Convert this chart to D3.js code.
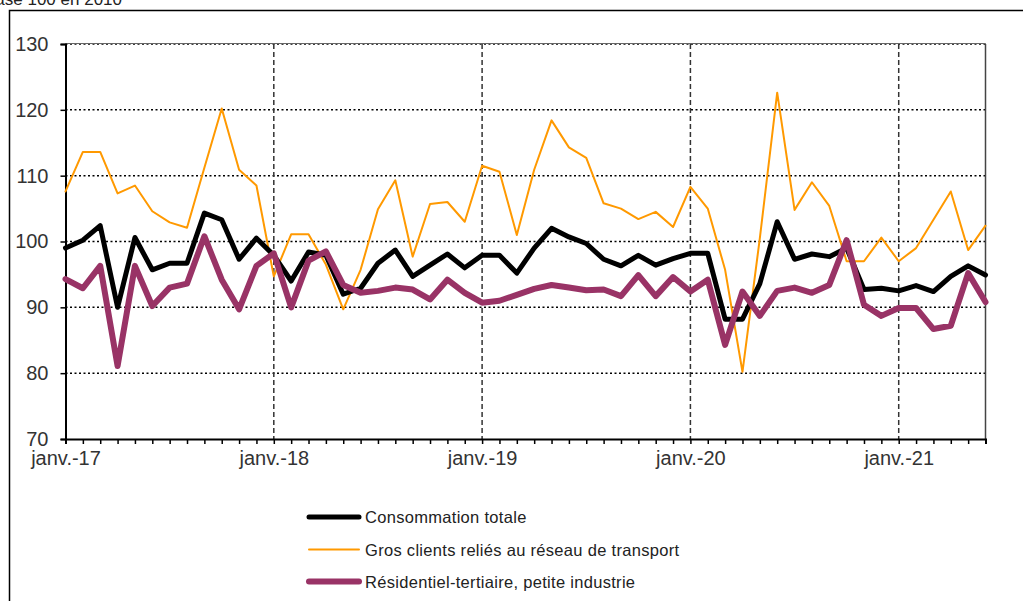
<!DOCTYPE html>
<html><head><meta charset="utf-8">
<script src="https://cdn.jsdelivr.net/npm/d3@7"></script>
<style>body{margin:0;background:#fff}svg{display:block}text{font-family:Arial,"Liberation Sans",sans-serif}</style>
</head><body><svg id="c" width="1023" height="601"></svg>
<script>
const monthNames = ["janv.","févr.","mars","avr.","mai","juin","juil.","août","sept.","oct.","nov.","déc."];
const years = ["17","18","19","20","21"];
const months = [];
years.forEach(y => monthNames.forEach(m => months.push(m + "-" + y)));
const categories = months.slice(0, 54);
const tickLabels = ["janv.-17","janv.-18","janv.-19","janv.-20","janv.-21"];
const yTicks = [70,80,90,100,110,120,130];

const consommationTotale = [99.0,100.2,102.4,90.0,100.6,95.7,96.7,96.7,104.3,103.3,97.3,100.5,
  97.9,94.0,98.4,97.9,92.0,92.9,96.7,98.7,94.7,96.4,98.1,96.0,
  97.9,97.9,95.2,99.0,102.0,100.7,99.7,97.3,96.3,97.9,96.4,97.4,
  98.2,98.2,88.2,88.2,93.6,103.0,97.3,98.1,97.7,99.0,92.7,92.9,
  92.5,93.3,92.4,94.7,96.3,94.9];
const grosClients = [107.6,113.6,113.6,107.3,108.5,104.6,102.9,102.1,111.2,120.2,110.9,108.5,
  94.7,101.1,101.1,96.5,89.7,95.7,104.9,109.3,97.7,105.7,106.0,103.0,
  111.5,110.6,101.0,110.9,118.4,114.3,112.7,105.8,105.0,103.4,104.5,102.2,
  108.3,105.0,95.7,80.2,100.5,122.6,104.8,109.0,105.4,97.0,97.0,100.6,
  97.0,99.0,103.3,107.6,98.7,102.4];
const residentiel = [94.3,92.9,96.3,81.1,96.3,90.2,93.0,93.6,100.8,94.2,89.7,96.3,
  98.2,90.0,97.1,98.5,93.4,92.2,92.5,93.0,92.7,91.2,94.2,92.2,
  90.7,91.0,91.9,92.8,93.4,93.0,92.6,92.7,91.7,94.9,91.7,94.6,
  92.4,94.2,84.3,92.4,88.7,92.5,93.0,92.2,93.4,100.2,90.4,88.7,
  89.9,89.9,86.7,87.2,95.2,90.8];

const seriesNames = ["Consommation totale","Gros clients reliés au réseau de transport","Résidentiel-tertiaire, petite industrie"];
const seriesColors = ["#000000","#FF9900","#993366"];
const seriesWidths = [5,2,6];
const seriesData = [consommationTotale, grosClients, residentiel];

const svg = d3.select("#c");
const L = 65.5, R = 985.5, T = 44, B = 439;
const x = d3.scalePoint().domain(categories).range([L, R]);
const y = d3.scaleLinear().domain([70,130]).range([B, T]);

// outer frame
svg.append("rect").attr("x",9.5).attr("y",10.5).attr("width",1030).attr("height",600)
  .attr("fill","none").attr("stroke","#000").attr("stroke-width",1.5);

// top-left note (partly cut off at the top edge, as in the source)
svg.append("text").attr("x",122).attr("y",5).attr("text-anchor","end")
  .attr("font-size",17).attr("fill","#222").text("Base 100 en 2010");

// horizontal gridlines
svg.append("g").selectAll("line").data(yTicks.filter(v=>v>70)).join("line")
  .attr("x1",L).attr("x2",R).attr("y1",d=>y(d)).attr("y2",d=>y(d))
  .attr("stroke","#000").attr("stroke-width",1.5).attr("stroke-dasharray","2,2.5");

// vertical dashed gridlines at January
svg.append("g").selectAll("line").data(tickLabels.slice(1)).join("line")
  .attr("x1",d=>x(d)).attr("x2",d=>x(d)).attr("y1",T).attr("y2",B)
  .attr("stroke","#333").attr("stroke-width",1.5).attr("stroke-dasharray","5,3");

// plot border top/right
svg.append("line").attr("x1",L).attr("x2",R).attr("y1",T-0.5).attr("y2",T-0.5).attr("stroke","#666").attr("stroke-width",1);
svg.append("line").attr("x1",R).attr("x2",R).attr("y1",T).attr("y2",B).attr("stroke","#444").attr("stroke-width",1.5);

// y axis
const yAxis = d3.axisLeft(y).tickValues(yTicks).tickSize(5).tickPadding(12);
const gy = svg.append("g").attr("transform",`translate(${L},0)`).call(yAxis);
gy.select(".domain").attr("stroke","#000").attr("stroke-width",2);
gy.selectAll(".tick line").attr("stroke","#000").attr("stroke-width",1.5);
gy.selectAll("text").attr("font-size",20).attr("fill","#333").attr("font-family","Arial, 'Liberation Sans', sans-serif");

// x axis
const xAxis = d3.axisBottom(x).tickValues(categories).tickSize(5).tickPadding(7)
  .tickFormat(d => tickLabels.includes(d) ? d : "");
const gx = svg.append("g").attr("transform",`translate(0,${B})`).call(xAxis);
gx.select(".domain").attr("stroke","#000").attr("stroke-width",2);
gx.selectAll(".tick line").attr("stroke","#000").attr("stroke-width",1.5);
gx.selectAll("text").attr("font-size",20).attr("fill","#333").attr("font-family","Arial, 'Liberation Sans', sans-serif");

// series
const line = d3.line().x((d,i)=>x(categories[i])).y(d=>y(d));
[1,0,2].forEach(k => {
  svg.append("path").datum(seriesData[k]).attr("d",line)
    .attr("fill","none").attr("stroke",seriesColors[k]).attr("stroke-width",seriesWidths[k])
    .attr("stroke-linejoin","round").attr("stroke-linecap","round");
});

// legend
const legY = [517, 549.5, 581.5];
seriesNames.forEach((n,k) => {
  svg.append("line").attr("x1",309).attr("x2",359).attr("y1",legY[k]).attr("y2",legY[k])
    .attr("stroke",seriesColors[k]).attr("stroke-width",seriesWidths[k]).attr("stroke-linecap","round");
  svg.append("text").attr("x",365).attr("y",legY[k]+6).attr("font-size",16.5).attr("fill","#222")
    .attr("letter-spacing",0.3).text(n);
});
</script></body></html>
